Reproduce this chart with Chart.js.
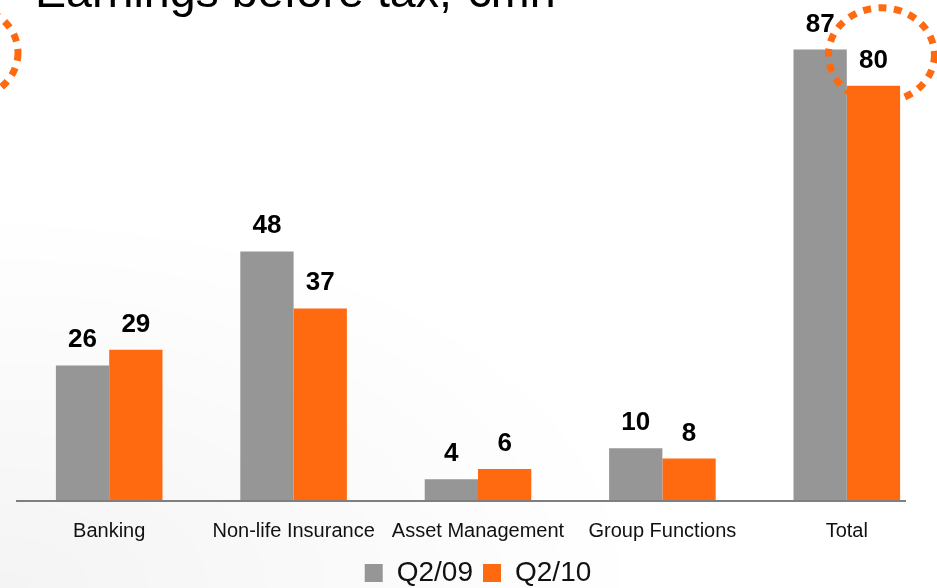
<!DOCTYPE html>
<html>
<head>
<meta charset="utf-8">
<script src="https://cdn.jsdelivr.net/npm/chart.js@4.4.1/dist/chart.umd.min.js"></script>
<style>
  html, body { margin: 0; padding: 0; width: 937px; height: 588px; overflow: hidden; }
  body {
    background:
      radial-gradient(ellipse 650px 380px at 0px 588px, rgba(0,0,0,0.045), rgba(0,0,0,0) 100%),
      #ffffff;
  }
  #wrap { position: absolute; left: 0; top: 0; width: 944px; height: 597px; }
</style>
</head>
<body>
<div id="wrap"><canvas id="chart" width="944" height="597"></canvas></div>
<script>
// Earnings before tax by segment, EUR mn
const categories = ['Banking', 'Non-life Insurance', 'Asset Management', 'Group Functions', 'Total'];
const seriesNames = ['Q2/09', 'Q2/10'];
const q209 = [26, 48, 4, 10, 87];
const q210 = [29, 37, 6, 8, 80];

const GREY = '#969696';
const ORANGE = '#FF6A10';
const FONT = '"Liberation Sans", Arial, Helvetica, sans-serif';

// Title text, partly running off the top edge
const titlePlugin = {
  id: 'titleText',
  afterDraw(chart) {
    const ctx = chart.ctx;
    ctx.save();
    ctx.font = '46.6px ' + FONT;
    ctx.fillStyle = '#000';
    ctx.textAlign = 'left';
    ctx.textBaseline = 'alphabetic';
    ctx.fillText('Earnings before tax, €mn', 35, 7);
    ctx.restore();
  }
};

// Value labels above each bar
const valueLabels = {
  id: 'valueLabels',
  afterDatasetsDraw(chart) {
    const ctx = chart.ctx;
    ctx.save();
    ctx.font = 'bold 26px ' + FONT;
    ctx.fillStyle = '#000';
    ctx.textAlign = 'center';
    ctx.textBaseline = 'alphabetic';
    chart.data.datasets.forEach((ds, i) => {
      chart.getDatasetMeta(i).data.forEach((bar, j) => {
        ctx.fillText(String(ds.data[j]), bar.x, bar.y - 18);
      });
    });
    ctx.restore();
  }
};

// Category axis baseline
const baseLine = {
  id: 'baseLine',
  afterDatasetsDraw(chart) {
    const a = chart.chartArea;
    const ctx = chart.ctx;
    ctx.save();
    ctx.strokeStyle = '#7f7f7f';
    ctx.lineWidth = 2;
    ctx.beginPath();
    ctx.moveTo(a.left - 1, a.bottom + 1);
    ctx.lineTo(a.right - 33, a.bottom + 1);
    ctx.stroke();
    ctx.restore();
  }
};

// Dotted highlight rings
const rings = {
  id: 'rings',
  afterDraw(chart) {
    const ctx = chart.ctx;
    const meta = chart.getDatasetMeta(1);
    const last = meta.data[meta.data.length - 1];
    const cx = last.x + 8, cy = last.y - 31;
    ctx.save();
    ctx.strokeStyle = ORANGE;
    ctx.lineWidth = 7;
    ctx.setLineDash([8, 7.5]);
    ctx.beginPath();
    ctx.ellipse(cx, cy, 53, 47, 0, 0, Math.PI * 2);
    ctx.stroke();
    ctx.beginPath();
    ctx.ellipse(chart.chartArea.left - 52, cy - 2, 53, 47, 0, 0, Math.PI * 2);
    ctx.stroke();
    ctx.restore();
  }
};

new Chart(document.getElementById('chart'), {
  type: 'bar',
  data: {
    labels: categories,
    datasets: [
      { label: seriesNames[0], data: q209, backgroundColor: GREY, borderWidth: 0 },
      { label: seriesNames[1], data: q210, backgroundColor: ORANGE, borderWidth: 0 }
    ]
  },
  options: {
    responsive: false,
    animation: false,
    layout: { padding: { left: 17, right: 5, top: 34, bottom: 0 } },
    categoryPercentage: 0.578,
    barPercentage: 1.0,
    scales: {
      x: {
        grid: { display: false, drawTicks: false },
        border: { display: false },
        ticks: {
          color: '#111',
          font: { family: FONT, size: 20 },
          padding: 19,
          maxRotation: 0,
          autoSkip: false
        },
        afterFit(scale) { scale.height -= 13; }
      },
      y: {
        display: false,
        min: 0,
        max: 90,
        grid: { display: false }
      }
    },
    plugins: {
      legend: {
        position: 'bottom',
        fullSize: false,
        labels: {
          boxWidth: 18,
          boxHeight: 18,
          padding: 10,
          color: '#111',
          font: { family: FONT, size: 28 }
        }
      },
      tooltip: { enabled: false }
    }
  },
  plugins: [titlePlugin, valueLabels, baseLine, rings]
});
</script>
</body>
</html>
